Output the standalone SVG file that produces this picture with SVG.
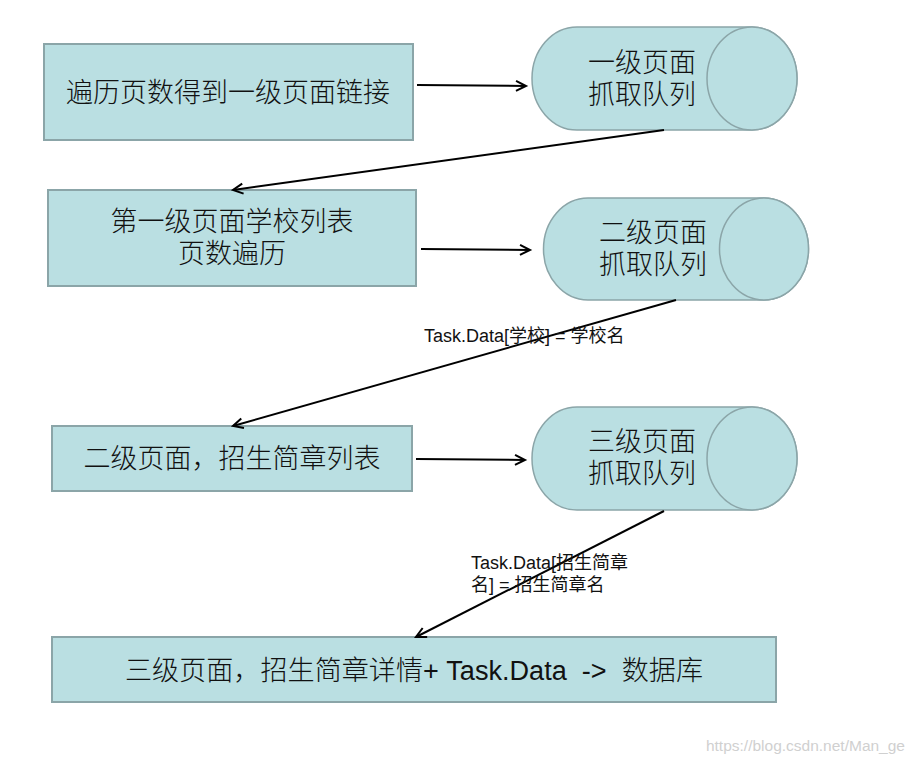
<svg xmlns="http://www.w3.org/2000/svg" width="915" height="763" viewBox="0 0 915 763">
<defs>
<style>
.box{fill:#badfe2;stroke:#8ba5a8;stroke-width:2}
.cyl{fill:#badfe2;stroke:#8ba5a8;stroke-width:1.5}
.t{font-family:"Liberation Sans","Noto Sans CJK SC",sans-serif;font-size:27px;font-weight:300;fill:#111;text-anchor:middle}
.lbl{font-family:"Liberation Sans","Noto Sans CJK SC",sans-serif;font-size:18px;fill:#111}
.con{stroke:#000;stroke-width:2;fill:none;marker-end:url(#arr)}
</style>
<marker id="arr" markerWidth="14" markerHeight="14" refX="11" refY="6" orient="auto" markerUnits="userSpaceOnUse">
<path d="M1,1 L11,6 L1,11" fill="none" stroke="#000" stroke-width="2"/>
</marker>
</defs>
<rect width="915" height="763" fill="#fff"/>
<g id="node-box1">
<rect class="box" x="44" y="44" width="369" height="96"/>
<text class="t" x="228" y="102">遍历页数得到一级页面链接</text>
</g>
<g id="node-cyl1">
<path class="cyl" d="M577,27 L752,27 A45,51.5 0 0 1 752,130 L577,130 A45,51.5 0 0 1 577,27 Z"/>
<ellipse class="cyl" cx="752" cy="78.5" rx="45" ry="51.5"/>
<text class="t" x="642" y="72">一级页面<tspan x="642" dy="32">抓取队列</tspan></text>
</g>
<g id="node-box2">
<rect class="box" x="48" y="190" width="368" height="96"/>
<text class="t" x="232" y="231">第一级页面学校列表<tspan x="232" dy="32">页数遍历</tspan></text>
</g>
<g id="node-cyl2">
<path class="cyl" d="M588,198 L764,198 A44.5,51 0 0 1 764,300 L588,300 A44.5,51 0 0 1 588,198 Z"/>
<ellipse class="cyl" cx="764" cy="249" rx="44.5" ry="51"/>
<text class="t" x="653" y="242">二级页面<tspan x="653" dy="32">抓取队列</tspan></text>
</g>
<g id="node-box3">
<rect class="box" x="52" y="426" width="360" height="65"/>
<text class="t" x="232" y="468">二级页面，招生简章列表</text>
</g>
<g id="node-cyl3">
<path class="cyl" d="M577,407 L752,407 A45,51.5 0 0 1 752,510 L577,510 A45,51.5 0 0 1 577,407 Z"/>
<ellipse class="cyl" cx="752" cy="458.5" rx="45" ry="51.5"/>
<text class="t" x="642" y="451">三级页面<tspan x="642" dy="32">抓取队列</tspan></text>
</g>
<g id="node-box4">
<rect class="box" x="52" y="637" width="724" height="65"/>
<text class="t" x="414" y="680" font-size="28" textLength="578" lengthAdjust="spacingAndGlyphs" style="white-space:pre">三级页面，招生简章详情+ Task.Data  -&gt;  数据库</text>
</g>
<g id="connectors">
<line class="con" x1="417" y1="85" x2="526" y2="86"/>
<line class="con" x1="664" y1="130" x2="233" y2="190"/>
<line class="con" x1="421" y1="249" x2="530" y2="250"/>
<line class="con" x1="676" y1="300" x2="233" y2="426"/>
<line class="con" x1="416" y1="459" x2="525" y2="460"/>
<line class="con" x1="664" y1="511" x2="416" y2="637"/>
</g>
<g id="labels">
<text class="lbl" x="424" y="342">Task.Data[学校] = 学校名</text>
<text class="lbl" x="471" y="569">Task.Data[招生简章<tspan x="471" dy="22">名] = 招生简章名</tspan></text>
</g>
<text x="905" y="751" text-anchor="end" font-family="Liberation Sans,sans-serif" font-size="15.5" fill="#d0d0d0">https://blog.csdn.net/Man_ge</text>
</svg>
